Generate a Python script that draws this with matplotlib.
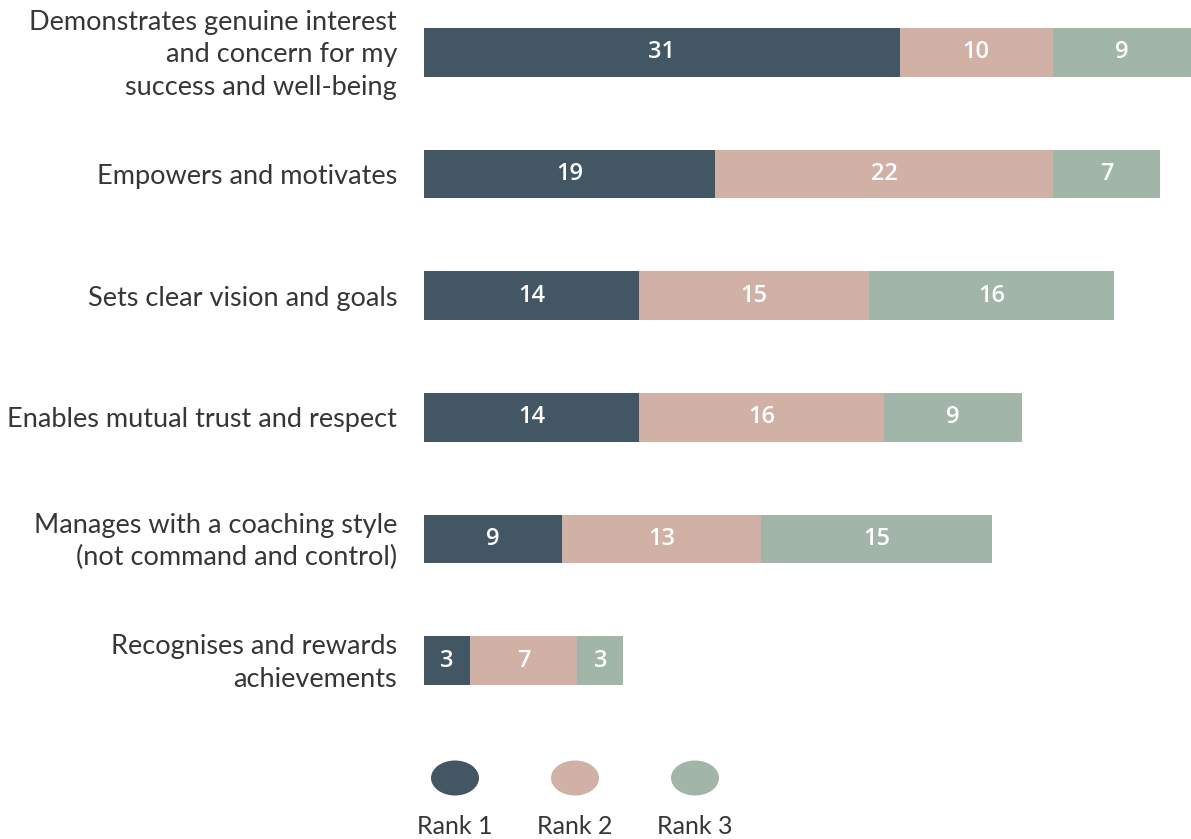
import matplotlib
matplotlib.use("Agg")
import matplotlib.pyplot as plt
from matplotlib.patches import Ellipse
import numpy as np

categories = [
    "Demonstrates genuine interest\nand concern for my\nsuccess and well-being",
    "Empowers and motivates",
    "Sets clear vision and goals",
    "Enables mutual trust and respect",
    "Manages with a coaching style\n(not command and control)",
    "Recognises and rewards\nachievements",
]
rank1 = [31, 19, 14, 14, 9, 3]
rank2 = [10, 22, 15, 16, 13, 7]
rank3 = [9, 7, 16, 9, 15, 3]
series_names = ["Rank 1", "Rank 2", "Rank 3"]
colors = ["#435663", "#D1B1A6", "#A1B5A8"]

W, H = 1191, 839
fig = plt.figure(figsize=(W / 100, H / 100), dpi=100)
ax = fig.add_axes([424 / W, (H - 685) / H, 767 / W, 657 / H])

y = np.arange(len(categories))
left = np.zeros(len(categories))
for vals, col in zip([rank1, rank2, rank3], colors):
    vals = np.array(vals, dtype=float)
    ax.barh(y, vals, left=left, height=0.4, color=col, edgecolor="none")
    for yi, (l, v) in enumerate(zip(left, vals)):
        ax.text(l + v / 2, yi, f"{int(v)}", ha="center", va="center",
                color="white", fontsize=17, fontfamily="Open Sans",
                fontweight="semibold")
    left += vals

ax.set_xlim(0, 50)
ax.set_ylim(len(categories) - 1 + 0.2, -0.2)
ax.axis("off")

# category labels, right-aligned against the bars
for yi, cat in enumerate(categories):
    ax.text(-27 / 767 * 50, yi + 0.02, cat, ha="right", va="center",
            fontsize=19.5, fontfamily="Lato", fontweight="normal",
            color="#363636", linespacing=1.38)

# legend: ellipse swatches with names below
for i, (name, col) in enumerate(zip(series_names, colors)):
    cx = 455 + 120 * i
    fig.add_artist(Ellipse((cx / W, (H - 778) / H), 48 / W, 35 / H,
                           transform=fig.transFigure, color=col, lw=0))
    fig.text(cx / W, (H - 826) / H, name, ha="center", va="center",
             fontsize=18, fontfamily="Lato", fontweight="normal",
             color="#363636")

fig.savefig("out.png", dpi=100)
